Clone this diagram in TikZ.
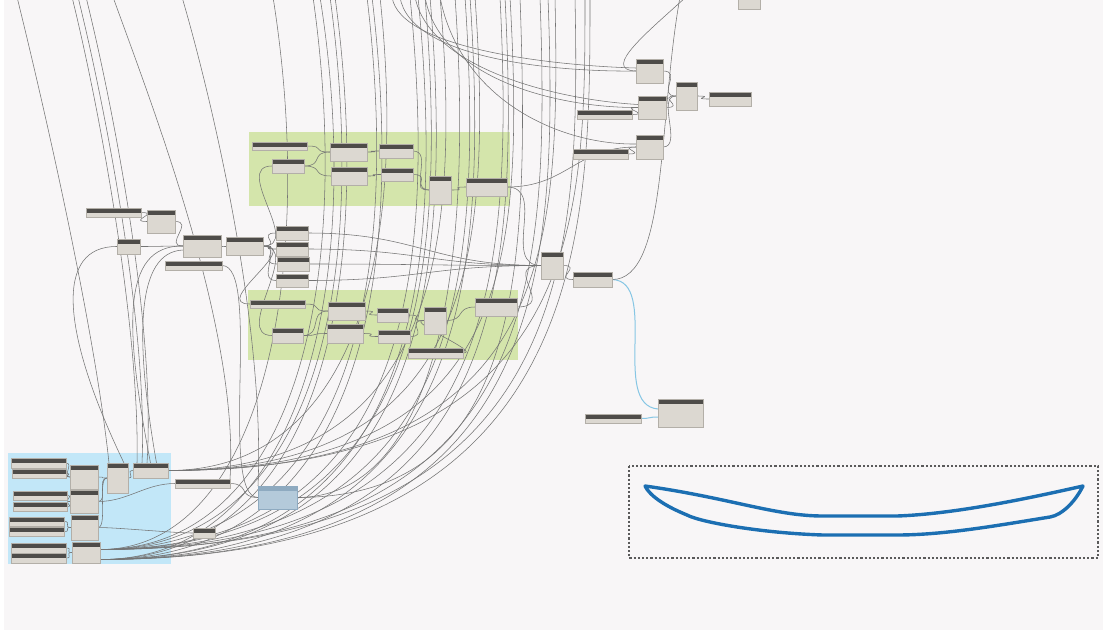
\documentclass[tikz,border=0pt]{standalone}
\usetikzlibrary{calc}
\definecolor{bgc}{HTML}{F8F6F7}
\definecolor{grn}{HTML}{D4E5AB}
\definecolor{blg}{HTML}{C2E7F8}
\definecolor{nhead}{HTML}{4E4C49}
\definecolor{nbody}{HTML}{DCD8D1}
\definecolor{nedge}{HTML}{B3AFA8}
\definecolor{wirec}{HTML}{747474}
\definecolor{bluew}{HTML}{86C6E4}
\definecolor{shapeb}{HTML}{1C6FB2}
\definecolor{bnbody}{HTML}{B4CADA}
\definecolor{bnhead}{HTML}{8EAAC0}
\definecolor{dashc}{HTML}{5A5A5A}
\pgfdeclarelayer{grouplayer}
\pgfdeclarelayer{wirelayer}
\pgfsetlayers{grouplayer,wirelayer,main}
\newcommand{\dynnode}[6][]{\node[dnode,#1,minimum width={(#5-#3)*1pt},minimum height={(#6-#4)*1pt},anchor=north west] (#2) at (#3,#4) {};}
\newcommand{\wre}[3][20]{\draw[wire] (#2) .. controls +(#1,0) and +(-#1,0) .. (#3);}
\begin{document}
\begin{tikzpicture}[x=1pt,y=-1pt,
  dnode/.style={rectangle,inner sep=0pt,outer sep=0pt,fill=nbody,draw=nedge,line width=0.3pt,
    path picture={\fill[nhead] (path picture bounding box.north west) rectangle ([yshift=-5pt]path picture bounding box.north east);}},
  bnode/.style={fill=bnbody,draw=bnhead,
    path picture={\fill[bnhead] (path picture bounding box.north west) rectangle ([yshift=-5pt]path picture bounding box.north east);}},
  wire/.style={draw=wirec,line width=0.55pt},
  bwire/.style={draw=bluew,line width=1pt}]
\useasboundingbox (0,0) rectangle (1103,630);

% ---------- background and groups ----------
\begin{pgfonlayer}{grouplayer}
\fill[white] (0,0) rectangle (1103,630);
\fill[bgc] (4,0) rectangle (1103,630);
\fill[grn] (249,132) rectangle (510,206);
\fill[grn] (248,290) rectangle (518,360);
\fill[blg] (8,453) rectangle (171,564);
\end{pgfonlayer}

% ---------- nodes ----------
% green group 1
\dynnode{a1}{252}{142}{307}{150}
\dynnode{b1}{272}{159}{304}{173}
\dynnode{c1}{330}{143}{367}{161}
\dynnode{d1}{331}{167}{367}{185}
\dynnode{e1}{379}{144}{413}{158}
\dynnode{f1}{381}{168}{413}{181}
\dynnode{g1}{429}{176}{451}{204}
\dynnode{h1}{466}{178}{507}{196}
% green group 2
\dynnode{a2}{250}{300}{305}{308}
\dynnode{b2}{272}{328}{303}{343}
\dynnode{c2}{328}{302}{365}{320}
\dynnode{d2}{327}{324}{363}{343}
\dynnode{e2}{377}{308}{408}{322}
\dynnode{f2}{378}{330}{410}{343}
\dynnode{g2}{424}{307}{446}{334}
\dynnode{h2}{475}{298}{517}{316}
\dynnode{i2}{408}{348}{463}{358}
% middle left
\dynnode{n1}{86}{208}{141}{217}
\dynnode{n2}{147}{210}{175}{233}
\dynnode{n3}{117}{239}{140}{254}
\dynnode{n4}{183}{235}{221}{257}
\dynnode{n5}{165}{261}{222}{270}
\dynnode{n6}{226}{237}{263}{255}
\dynnode{s1}{276}{226}{308}{240}
\dynnode{s2}{276}{242}{308}{256}
\dynnode{s3}{277}{257}{309}{271}
\dynnode{s4}{276}{274}{308}{287}
% right
\dynnode{m1}{541}{252}{563}{279}
\dynnode{m2}{573}{272}{612}{287}
\dynnode{m3}{658}{399}{703}{427}
\dynnode{m4}{585}{414}{641}{423}
\dynnode{t1}{636}{59}{663}{83}
\dynnode{t2}{638}{96}{666}{119}
\dynnode{t3}{636}{135}{663}{159}
\dynnode{t4}{676}{82}{697}{110}
\dynnode{t5}{709}{92}{751}{106}
\dynnode{t6}{577}{110}{632}{119}
\dynnode{t7}{573}{149}{628}{159}
\dynnode{t8}{738}{-10}{760}{9}
% blue group
\dynnode{p1}{11}{458}{66}{468}
\dynnode{p2}{12}{469}{66}{478}
\dynnode{p3}{13}{491}{67}{500}
\dynnode{p4}{13}{502}{67}{511}
\dynnode{p5}{9}{517}{64}{526}
\dynnode{p6}{9}{527}{64}{536}
\dynnode{p7}{11}{543}{66}{553}
\dynnode{p8}{11}{553}{66}{563}
\dynnode{q1}{70}{465}{98}{489}
\dynnode{q2}{70}{490}{98}{513}
\dynnode{q3}{71}{515}{98}{540}
\dynnode{q4}{72}{542}{100}{563}
\dynnode{b5}{107}{463}{128}{493}
\dynnode{b6}{133}{463}{168}{478}
\dynnode{o1}{175}{479}{230}{488}
\dynnode[bnode]{bn}{258}{486}{297}{509}
\dynnode{sm}{193}{528}{215}{538}

\coordinate (qa) at ([yshift=3pt]q4.east);
\coordinate (qb) at ([yshift=-7pt]q4.east);
\coordinate (b6o) at (b6.east);
\coordinate (bno) at (bn.east);

% ---------- wires ----------
\begin{pgfonlayer}{wirelayer}
% fan from the lower-left group up to the top edge
\foreach \s/\sx/\xt/\ln/\h/\k in {
  qa/100/273/45/280/0.95, qa/100/313/40/280/0.95, qa/100/330/40/290/0.95,
  qa/100/367/35/290/0.95, qa/100/410/30/300/0.97, qa/100/425/25/300/0.97,
  qa/100/465/20/300/0.98, qa/100/500/15/300/0.98, qa/100/540/10/290/1.0,
  qa/100/575/5/260/1.0,
  qb/100/320/45/280/0.95, qb/100/335/40/290/0.95, qb/100/372/35/290/0.96,
  qb/100/418/30/300/0.97, qb/100/430/25/300/0.97, qb/100/470/20/300/0.98,
  qb/100/505/15/300/0.99, qb/100/548/10/280/1.0, qb/100/590/0/240/1.0,
  b6o/168/380/30/280/0.9, b6o/168/440/25/280/0.95, b6o/168/475/20/280/0.97,
  b6o/168/510/15/270/1.0, b6o/168/555/5/250/1.0, b6o/168/585/0/220/1.0,
  bno/297/455/20/280/0.95, bno/297/520/10/280/1.0}{
  \coordinate (tp) at (\xt,-3);
  \draw[wire] (\s) .. controls +({\k*\xt-\sx},0) and ({\xt+\ln},\h) .. (tp);
}
% lines from the upper left
\coordinate (L17) at (17,-3);
\coordinate (L72) at (72,-3);
\coordinate (L78) at (78,-3);
\coordinate (L86) at (86,-3);
\coordinate (L113) at (113,-3);
\coordinate (L182) at (182,-3);
\draw[wire] (L17) .. controls (45,110) and (95,330) .. ([xshift=2pt]b5.north west);
\draw[wire] (L72) .. controls (100,110) and (140,330) .. ([xshift=4pt]b6.north west);
\draw[wire] (L78) .. controls (106,110) and (148,330) .. ([xshift=9pt]b6.north west);
\draw[wire] (L86) .. controls (114,110) and (156,330) .. ([xshift=14pt]b6.north west);
\draw[wire] (L113) .. controls (150,100) and (240,330) .. (o1.north east);
\draw[wire] (L182) .. controls (215,110) and (265,330) .. (bn.north west);
% loops into the middle-left nodes
\draw[wire] ([xshift=-4pt]b5.north east) .. controls (60,330) and (55,246) .. (n3.west);
\draw[wire] (b6.north) .. controls (125,330) and (120,245) .. (n4.west);
\draw[wire] ([xshift=6pt]b6.north) .. controls (135,340) and (135,252) .. ([yshift=-4pt]n4.west);
\draw[wire] (n5.east) .. controls (262,265) and (218,497) .. (bn.west);
% middle-left chain
\wre{n1.east}{n2.west}
\wre{n2.east}{n4.west}
\wre{n3.east}{n4.west}
\wre{n4.east}{n6.west}
\wre{n6.east}{s1.west}
\wre{n6.east}{s2.west}
\wre{n6.east}{s3.west}
\wre{n6.east}{s4.west}
\wre[40]{n6.east}{b1.west}
\wre[40]{n6.east}{b2.west}
\wre[40]{n6.east}{a2.west}
\wre[110]{s1.east}{m1.west}
\wre[110]{s2.east}{m1.west}
\wre[110]{s3.east}{m1.west}
\wre[110]{s4.east}{m1.west}
% green group 1
\wre{a1.east}{c1.west}
\wre{b1.east}{c1.west}
\wre{b1.east}{d1.west}
\wre{c1.east}{e1.west}
\wre{d1.east}{f1.west}
\wre{e1.east}{g1.west}
\wre{f1.east}{g1.west}
\wre{g1.east}{h1.west}
\wre[40]{h1.east}{m1.west}
\wre[60]{h1.east}{t3.west}
% green group 2
\wre{a2.east}{c2.west}
\wre{b2.east}{c2.west}
\wre{b2.east}{d2.west}
\wre{c2.east}{e2.west}
\wre{d2.east}{f2.west}
\wre{e2.east}{g2.west}
\wre{f2.east}{g2.west}
\wre{g2.east}{h2.west}
\wre{i2.east}{g2.west}
\wre[40]{h2.east}{m1.west}
% right side
\wre{m1.east}{m2.west}
\draw[bwire] (m2.east) .. controls (660,281) and (610,405) .. ([yshift=4pt]m3.west);
\draw[bwire] (m4.east) .. controls +(10,0) and +(-10,0) .. ([yshift=-4pt]m3.west);
\coordinate (R680) at (680,-3);
\draw[wire] (m2.east) .. controls (668,280) and (658,120) .. (R680);
\coordinate (R683) at (686,-3);
\draw[wire] (R683) .. controls (650,30) and (600,70) .. (t1.west);
\coordinate (T392) at (392,-3);
\coordinate (T400) at (400,-3);
\coordinate (T415) at (415,-3);
\coordinate (T425) at (425,-3);
\coordinate (T440) at (440,-3);
\draw[wire] (T392) .. controls (400,50) and (560,66) .. ([yshift=3pt]t1.west);
\draw[wire] (T400) .. controls (410,60) and (560,72) .. (t1.west);
\draw[wire] (T415) .. controls (430,70) and (560,100) .. ([yshift=3pt]t2.west);
\draw[wire] (T425) .. controls (440,80) and (560,108) .. (t2.west);
\draw[wire] (T440) .. controls (460,100) and (560,145) .. ([yshift=3pt]t3.west);
\wre{t1.east}{t4.west}
\wre{t2.east}{t4.west}
\wre{t3.east}{t4.west}
\wre{t4.east}{t5.west}
\wre{t6.east}{t2.west}
\wre{t7.east}{t3.west}
% lower-left group
\wre[8]{p1.east}{q1.west}
\wre[8]{p2.east}{q1.west}
\wre[8]{p3.east}{q2.west}
\wre[8]{p4.east}{q2.west}
\wre[8]{p5.east}{q3.west}
\wre[8]{p6.east}{q3.west}
\wre[8]{p7.east}{q4.west}
\wre[8]{p8.east}{q4.west}
\wre[10]{q1.east}{b5.west}
\wre[10]{q2.east}{b5.west}
\wre[10]{q3.east}{b5.west}
\wre[8]{b5.east}{b6.west}
\wre[30]{q2.east}{o1.west}
\wre[20]{o1.east}{bn.west}
\wre[20]{q3.east}{sm.west}
\end{pgfonlayer}

% ---------- preview ----------
\draw[dashc,line width=1.4pt,dash pattern=on 2.2pt off 2pt] (629,466) rectangle (1098,558);
\draw[shapeb,line width=3.4pt,line join=round]
  (645,486) .. controls (730,498) and (775,516) .. (823,516) -- (897,516)
  .. controls (955,514) and (1030,498) .. (1083,486)
  .. controls (1075,502) and (1062,515) .. (1050,517)
  .. controls (1000,525) and (945,535) .. (897,535) -- (823,535)
  .. controls (760,533) and (700,522) .. (687,515)
  .. controls (665,506) and (650,496) .. cycle;
\end{tikzpicture}
\end{document}
